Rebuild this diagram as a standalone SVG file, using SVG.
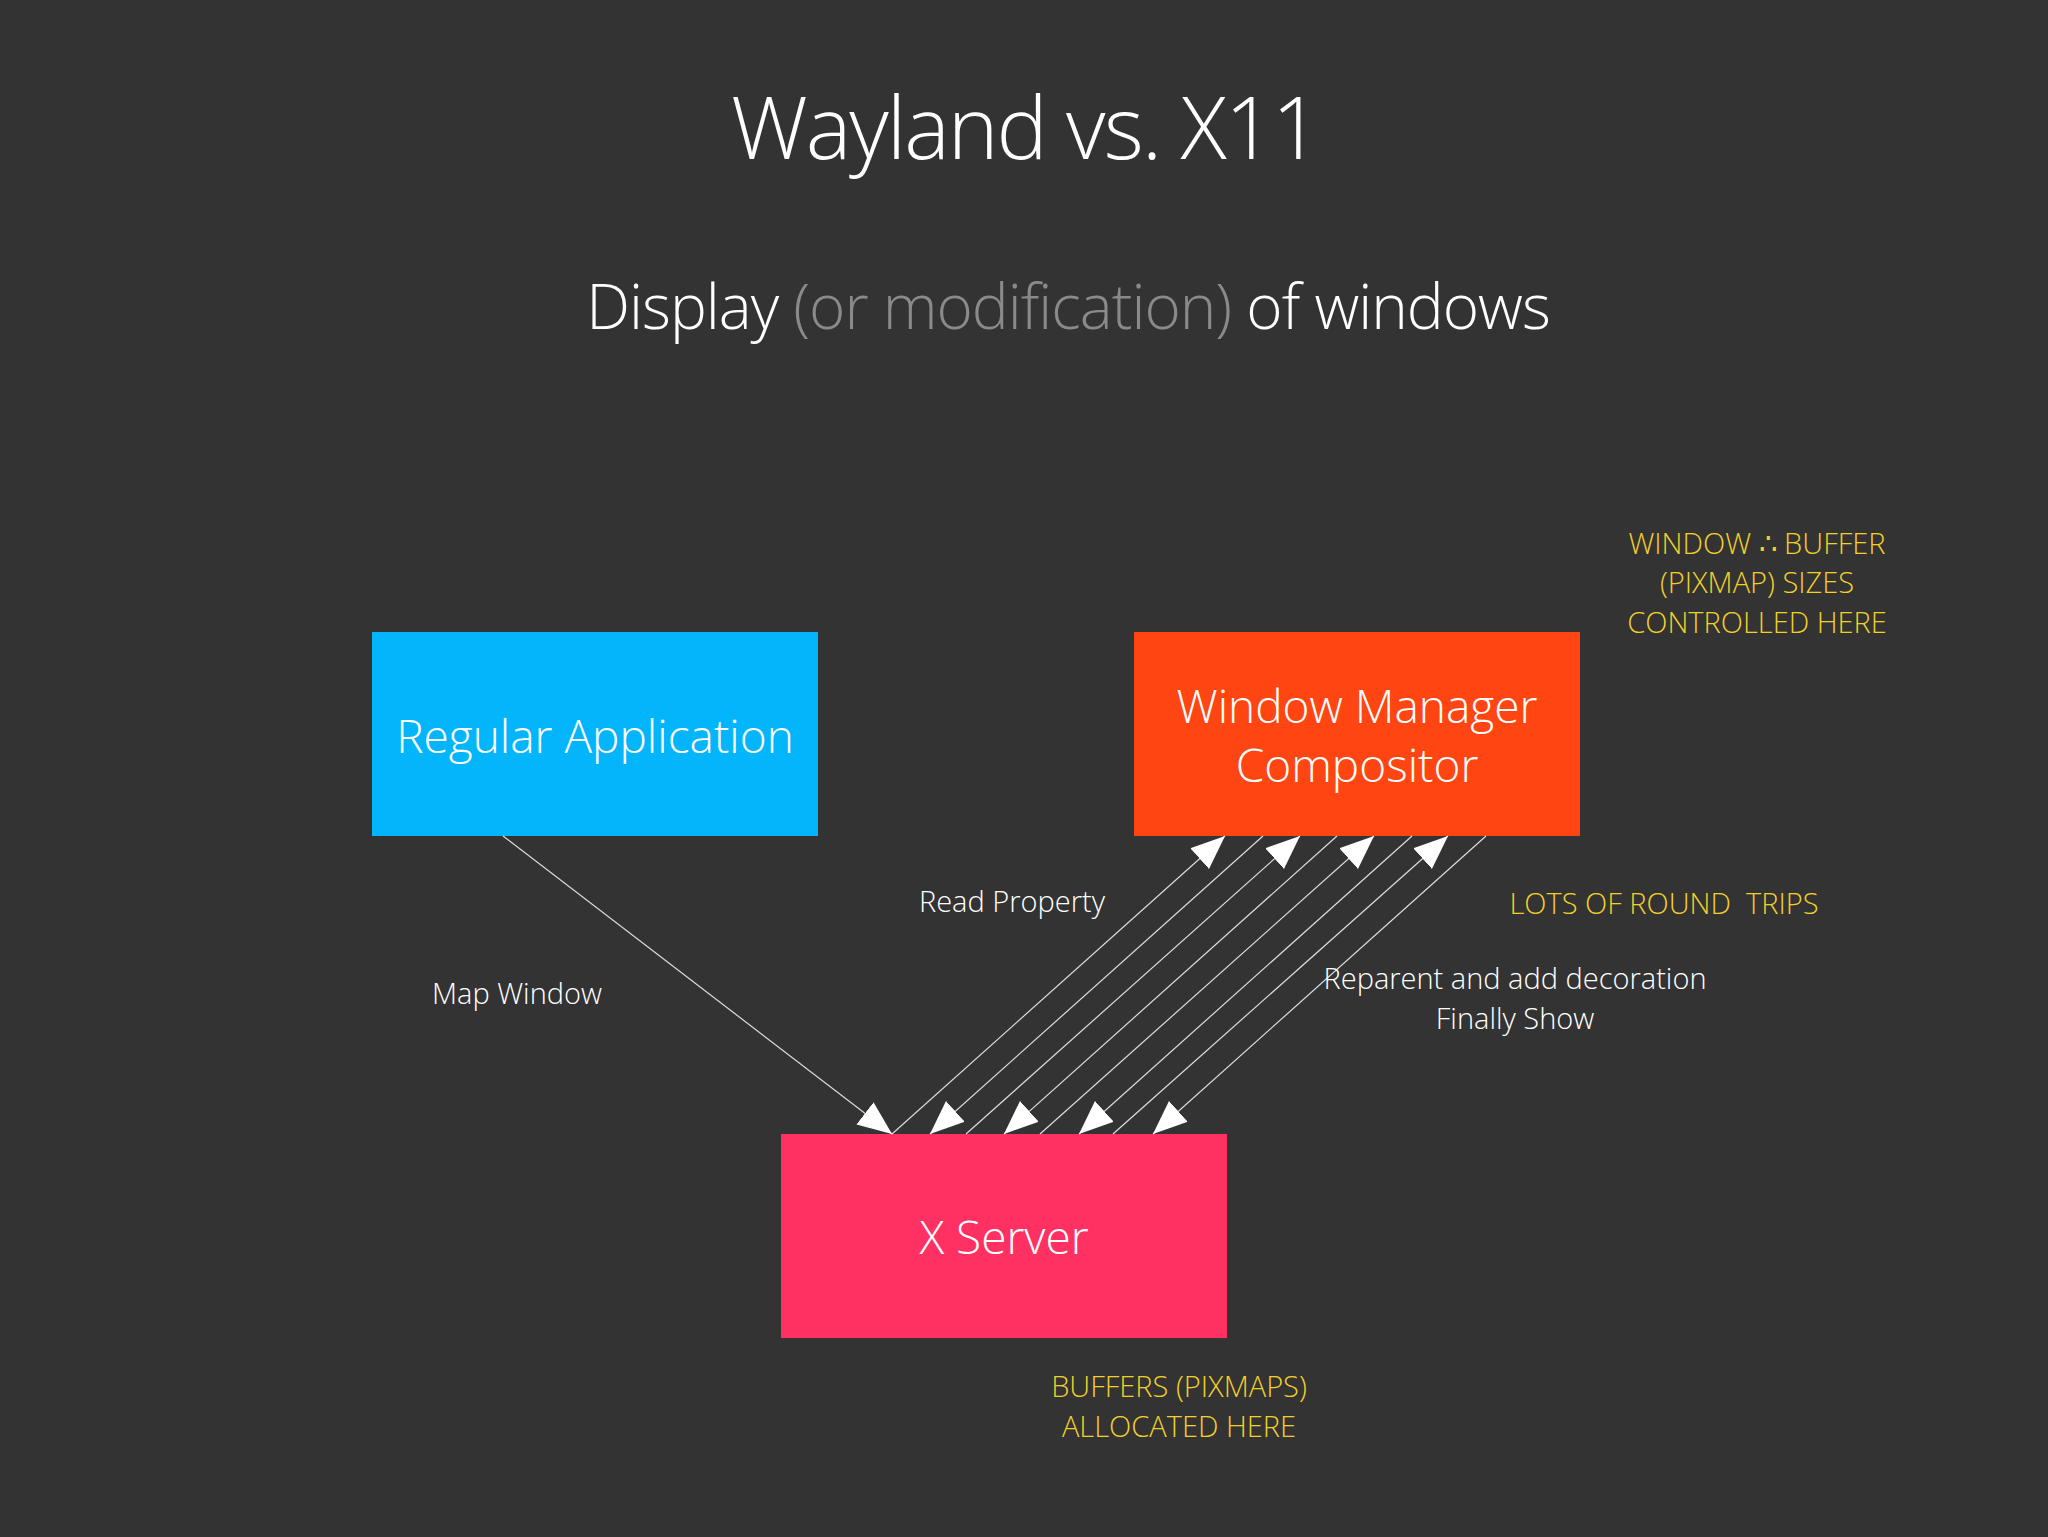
<svg xmlns="http://www.w3.org/2000/svg" width="2048" height="1537" viewBox="0 0 2048 1537">
<style>
text{font-family:"Open Sans","Liberation Sans",sans-serif;font-weight:300;text-anchor:middle;fill:#fff}
.lbl{font-size:29px}
.y{fill:#f2d02a;font-size:29px}
.box{font-size:46px}
.c{stroke:#ddd;stroke-width:1.2;fill:none;marker-end:url(#a)}
</style>
<defs>
<marker id="a" markerUnits="userSpaceOnUse" markerWidth="36" markerHeight="30" refX="34" refY="14" orient="auto"><path d="M0,0 L34,14 L0,28 Z" fill="#fff"/></marker>
</defs>
<rect width="2048" height="1537" fill="#333333"/>
<text x="1025" y="159" font-size="86" style="letter-spacing:-2px">Wayland vs. X11</text>
<text x="1068" y="329" font-size="62" style="letter-spacing:-1px">Display <tspan fill="#8a8a8a">(or modification)</tspan> of windows</text>
<g id="regular"><rect x="372" y="632" width="446" height="204" fill="#03b6fc"/><text class="box" x="595" y="753">Regular Application</text></g>
<g id="wm"><rect x="1134" y="632" width="446" height="204" fill="#ff4511"/><text class="box" x="1357" y="723">Window Manager</text><text class="box" x="1357" y="782">Compositor</text></g>
<g id="xserver"><rect x="781" y="1134" width="446" height="204" fill="#ff3163"/><text class="box" x="1004" y="1254">X Server</text></g>
<g id="connectors">
<line class="c" x1="503" y1="836" x2="892" y2="1134"/>
<line class="c" x1="892" y1="1134" x2="1225" y2="836"/>
<line class="c" x1="966" y1="1134" x2="1300" y2="836"/>
<line class="c" x1="1040" y1="1134" x2="1374" y2="836"/>
<line class="c" x1="1113" y1="1134" x2="1448" y2="836"/>
<line class="c" x1="1263" y1="836" x2="930" y2="1134"/>
<line class="c" x1="1337" y1="836" x2="1004" y2="1134"/>
<line class="c" x1="1412" y1="836" x2="1079" y2="1134"/>
<line class="c" x1="1486" y1="836" x2="1153" y2="1134"/>
</g>
<text class="lbl" x="1012" y="912">Read Property</text>
<text class="lbl" x="517" y="1004">Map Window</text>
<text class="lbl" x="1515" y="989">Reparent and add decoration</text>
<text class="lbl" x="1515" y="1029">Finally Show</text>
<text class="y" x="1664" y="914" xml:space="preserve">LOTS OF ROUND  TRIPS</text>
<text class="y" x="1757" y="554">WINDOW ∴ BUFFER</text>
<text class="y" x="1757" y="593">(PIXMAP) SIZES</text>
<text class="y" x="1757" y="633">CONTROLLED HERE</text>
<text class="y" x="1179" y="1397">BUFFERS (PIXMAPS)</text>
<text class="y" x="1179" y="1437">ALLOCATED HERE</text>
</svg>
